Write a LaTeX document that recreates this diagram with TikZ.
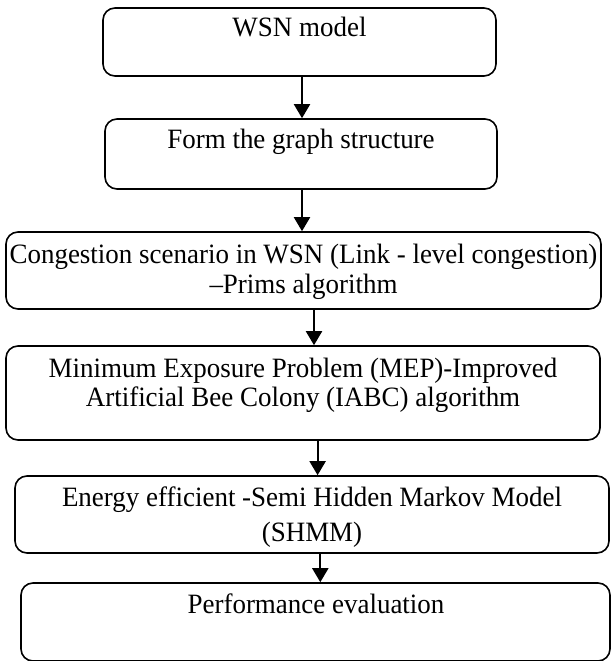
\documentclass[tikz,border=0pt]{standalone}
\usepackage{fontspec}
\setmainfont[FakeStretch=0.963]{Liberation Serif}
\usetikzlibrary{arrows.meta}
\tikzset{
  box/.style={draw=black, line width=1.6pt, rounded corners=12pt, inner sep=0pt, fill=white},
  txt/.style={anchor=base, inner sep=0pt, font=\fontsize{28}{32}\selectfont},
  arr/.style={line width=2pt, -{Triangle[width=16pt,length=14pt]}}
}
\begin{document}
\begin{tikzpicture}[x=1pt,y=-1pt]
\useasboundingbox[fill=white] (0,0) rectangle (611,661);
\node[box, minimum width=393pt, minimum height=68pt] (b1) at (299.5,42) {};
\node[box, minimum width=392pt, minimum height=70pt] (b2) at (301,154) {};
\node[box, minimum width=595pt, minimum height=77pt] (b3) at (303.5,270.5) {};
\node[box, minimum width=594pt, minimum height=94pt] (b4) at (303,393) {};
\node[box, minimum width=594pt, minimum height=77pt] (b5) at (312,514.5) {};
\node[box, minimum width=589pt, minimum height=78pt] (b6) at (315.5,622) {};

\node[txt] (t1) at (299.5,37) {WSN model};
\node[txt] (t2) at (301,148) {Form the graph structure};
\node[txt] (t3a) at (303.5,263) {Congestion scenario in WSN (Link - level congestion)};
\node[txt] (t3b) at (303.5,293) {–Prims algorithm};
\node[txt] (t4a) at (303,377) {Minimum Exposure Problem (MEP)-Improved};
\node[txt] (t4b) at (303,406) {Artificial Bee Colony (IABC) algorithm};
\node[txt] (t5a) at (312,506) {Energy efficient -Semi Hidden Markov Model};
\node[txt] (t5b) at (312,541.5) {(SHMM)};
\node[txt] (t6) at (316,613) {Performance evaluation};

\draw[arr] ([xshift=2.5pt]b1.south) -- ([xshift=1pt]b2.north);
\draw[arr] ([xshift=1pt]b2.south) -- ([xshift=-1.5pt]b3.north);
\draw[arr] ([xshift=10.5pt]b3.south) -- ([xshift=11pt]b4.north);
\draw[arr] ([xshift=14.6pt]b4.south) -- ([xshift=5.6pt]b5.north);
\draw[arr] ([xshift=8.3pt]b5.south) -- ([xshift=4.8pt]b6.north);
\end{tikzpicture}
\end{document}
